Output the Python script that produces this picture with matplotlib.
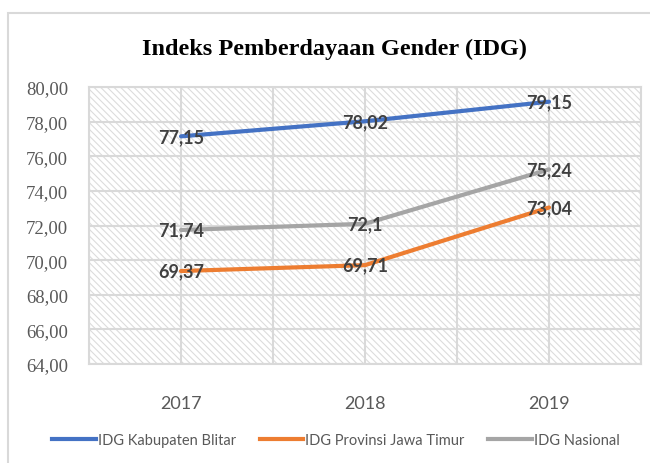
import matplotlib
matplotlib.use("Agg")
import matplotlib.pyplot as plt
from matplotlib.patches import Rectangle
from matplotlib.lines import Line2D
import numpy as np

years = ["2017", "2018", "2019"]
blitar = [77.15, 78.02, 79.15]
jatim = [69.37, 69.71, 73.04]
nasional = [71.74, 72.1, 75.24]
blitar_lbl = ["77,15", "78,02", "79,15"]
jatim_lbl = ["69,37", "69,71", "73,04"]
nasional_lbl = ["71,74", "72,1", "75,24"]
series_names = ["IDG Kabupaten Blitar", "IDG Provinsi Jawa Timur", "IDG Nasional"]
yticks = [64, 66, 68, 70, 72, 74, 76, 78, 80]
ytick_labels = ["64,00", "66,00", "68,00", "70,00", "72,00", "74,00", "76,00", "78,00", "80,00"]

colors = ["#4472C4", "#ED7D31", "#A5A5A5"]
plt.rcParams["hatch.linewidth"] = 0.8
W, H = 650, 464
fig = plt.figure(figsize=(W / 100, H / 100), dpi=100)
fig.patch.set_facecolor("white")

# outer chart border
fig.add_artist(Rectangle((8 / W, -0.01), 1.0, 1 - 14 / H + 0.01, transform=fig.transFigure,
                         fill=False, edgecolor="#d9d9d9", linewidth=1.5))

L, R, T, B = 89, 641, 88, 365
ax = fig.add_axes([L / W, 1 - B / H, (R - L) / W, (B - T) / H])
ax.set_xlim(0, 3)
ax.set_ylim(64, 80)
ax.set_facecolor("white")
ax.add_patch(Rectangle((0, 0), 1, 1, transform=ax.transAxes, facecolor="white",
                       edgecolor="#dcdcdc", hatch="\\" * 5, linewidth=0, zorder=0))

xpos = np.arange(len(years)) + 0.5
ax.set_xticks([0, 1, 2, 3])
ax.set_xticklabels([])
ax.set_xticks(xpos, minor=True)
ax.set_xticklabels(years, minor=True, fontfamily="Lato", fontsize=13, color="#595959")
ax.grid(True, which="both", axis="x", color="#d9d9d9", linewidth=1.5, zorder=1)
ax.set_yticks(yticks)
ax.grid(True, which="major", axis="y", color="#d9d9d9", linewidth=1.5, zorder=1)
ax.tick_params(axis="x", which="both", length=0, pad=22)
ax.set_yticklabels(ytick_labels, fontfamily="Liberation Serif", fontsize=13.5, color="#595959")
ax.tick_params(axis="y", length=0, pad=15)
for s in ax.spines.values():
    s.set_color("#d9d9d9")
    s.set_linewidth(1.5)

for vals, lbls, c in zip([blitar, jatim, nasional], [blitar_lbl, jatim_lbl, nasional_lbl], colors):
    ax.plot(xpos, vals, color=c, linewidth=3, solid_capstyle="round", zorder=3)
    for x, v, t in zip(xpos, vals, lbls):
        ax.text(x, v, t, ha="center", va="center", fontsize=13, fontweight="bold",
                fontfamily="Lato", color="#404040", zorder=4)

fig.text(334 / W, 1 - 55 / H, "Indeks Pemberdayaan Gender (IDG)", ha="center", va="baseline",
         fontfamily="Liberation Serif", fontweight="bold", fontsize=17.5, color="black")

handles = [Line2D([0], [0], color=c, linewidth=3) for c in colors]
fig.legend(handles, series_names, loc="center", bbox_to_anchor=(336 / W, 1 - 441 / H), ncol=3,
           frameon=False, handlelength=3.0, handletextpad=0.15, columnspacing=1.6,
           prop={"family": "Lato", "size": 10.5}, labelcolor="#595959")

fig.savefig("out.png", dpi=100, facecolor="white")
